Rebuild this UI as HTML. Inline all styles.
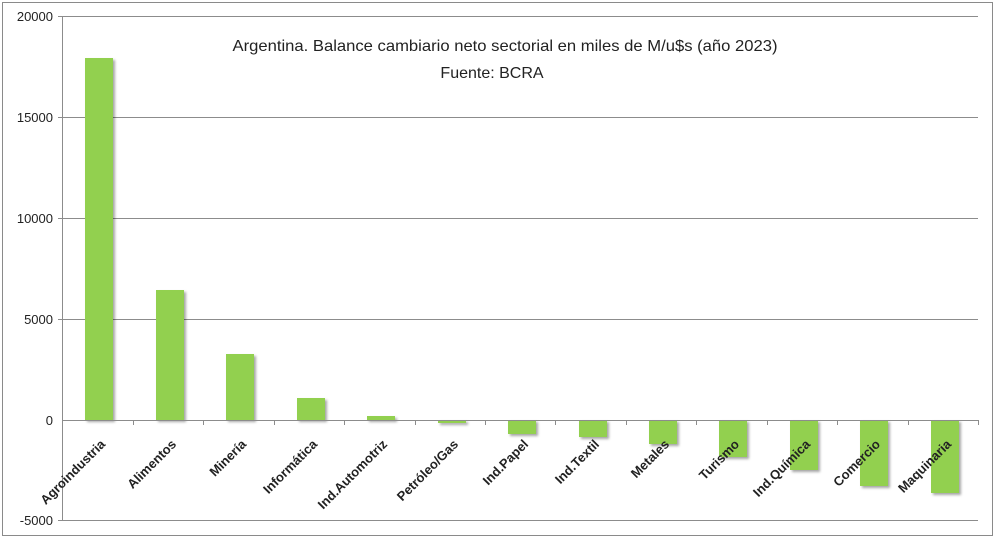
<!DOCTYPE html>
<html><head><meta charset="utf-8"><style>html,body{margin:0;padding:0;background:#fff}svg{display:block}</style></head>
<body>
<svg width="1000" height="542" xmlns="http://www.w3.org/2000/svg" font-family="Liberation Sans, sans-serif">
<defs><filter id="sh" x="-20%" y="-5%" width="150%" height="120%"><feDropShadow dx="2" dy="2" stdDeviation="1.3" flood-color="#000" flood-opacity="0.35"/></filter></defs>
<rect x="2.5" y="2.5" width="990" height="533" fill="#fff" stroke="#8a8a8a" stroke-width="1"/>
<g stroke="#8c8c8c" stroke-width="1">
<line x1="58" y1="16.5" x2="978" y2="16.5"/>
<line x1="58" y1="117.5" x2="978" y2="117.5"/>
<line x1="58" y1="218.5" x2="978" y2="218.5"/>
<line x1="58" y1="319.5" x2="978" y2="319.5"/>
<line x1="58" y1="520.5" x2="978" y2="520.5"/>
<line x1="62.5" y1="16" x2="62.5" y2="521"/>
</g>
<g font-size="13" fill="#222" text-anchor="end">
<text x="53" y="21">20000</text><text x="53" y="122">15000</text><text x="53" y="223">10000</text><text x="53" y="324">5000</text><text x="53" y="425">0</text><text x="53" y="525">-5000</text>
</g>
<text x="505" y="51" font-size="16" text-anchor="middle" fill="#222" textLength="545" lengthAdjust="spacingAndGlyphs">Argentina. Balance cambiario neto sectorial en miles de M/u$s (año 2023)</text>
<text x="492" y="78" font-size="16" text-anchor="middle" fill="#222">Fuente: BCRA</text>
<g fill="#92d050" filter="url(#sh)">
<rect x="85" y="58" width="28" height="362"/>
<rect x="156" y="290" width="28" height="130"/>
<rect x="226" y="354" width="28" height="66"/>
<rect x="297" y="398" width="28" height="22"/>
<rect x="367" y="416" width="28" height="4"/>
<rect x="438" y="420" width="28" height="3"/>
<rect x="508" y="420" width="28" height="14"/>
<rect x="579" y="420" width="28" height="17"/>
<rect x="649" y="420" width="28" height="24"/>
<rect x="719" y="420" width="28" height="37"/>
<rect x="790" y="420" width="28" height="50"/>
<rect x="860" y="420" width="28" height="66"/>
<rect x="931" y="420" width="28" height="73"/>
</g>
<g stroke="#8c8c8c" stroke-width="1">
<line x1="62" y1="420.5" x2="978" y2="420.5"/>
<line x1="133.5" y1="420" x2="133.5" y2="425"/><line x1="203.5" y1="420" x2="203.5" y2="425"/><line x1="274.5" y1="420" x2="274.5" y2="425"/><line x1="344.5" y1="420" x2="344.5" y2="425"/><line x1="415.5" y1="420" x2="415.5" y2="425"/><line x1="485.5" y1="420" x2="485.5" y2="425"/><line x1="555.5" y1="420" x2="555.5" y2="425"/><line x1="626.5" y1="420" x2="626.5" y2="425"/><line x1="696.5" y1="420" x2="696.5" y2="425"/><line x1="767.5" y1="420" x2="767.5" y2="425"/><line x1="837.5" y1="420" x2="837.5" y2="425"/><line x1="908.5" y1="420" x2="908.5" y2="425"/><line x1="978.5" y1="420" x2="978.5" y2="425"/>
</g>
<g font-size="13" font-weight="bold" fill="#222" text-anchor="end">
<text transform="translate(106,445) rotate(-45)">Agroindustria</text>
<text transform="translate(177,445) rotate(-45)">Alimentos</text>
<text transform="translate(247,445) rotate(-45)">Minería</text>
<text transform="translate(318,445) rotate(-45)">Informática</text>
<text transform="translate(388,445) rotate(-45)">Ind.Automotriz</text>
<text transform="translate(459,445) rotate(-45)">Petróleo/Gas</text>
<text transform="translate(529,445) rotate(-45)">Ind.Papel</text>
<text transform="translate(600,445) rotate(-45)">Ind.Textil</text>
<text transform="translate(670,445) rotate(-45)">Metales</text>
<text transform="translate(740,445) rotate(-45)">Turismo</text>
<text transform="translate(811,445) rotate(-45)">Ind.Química</text>
<text transform="translate(881,445) rotate(-45)">Comercio</text>
<text transform="translate(952,445) rotate(-45)">Maquinaria</text>
</g>
</svg>
</body></html>
